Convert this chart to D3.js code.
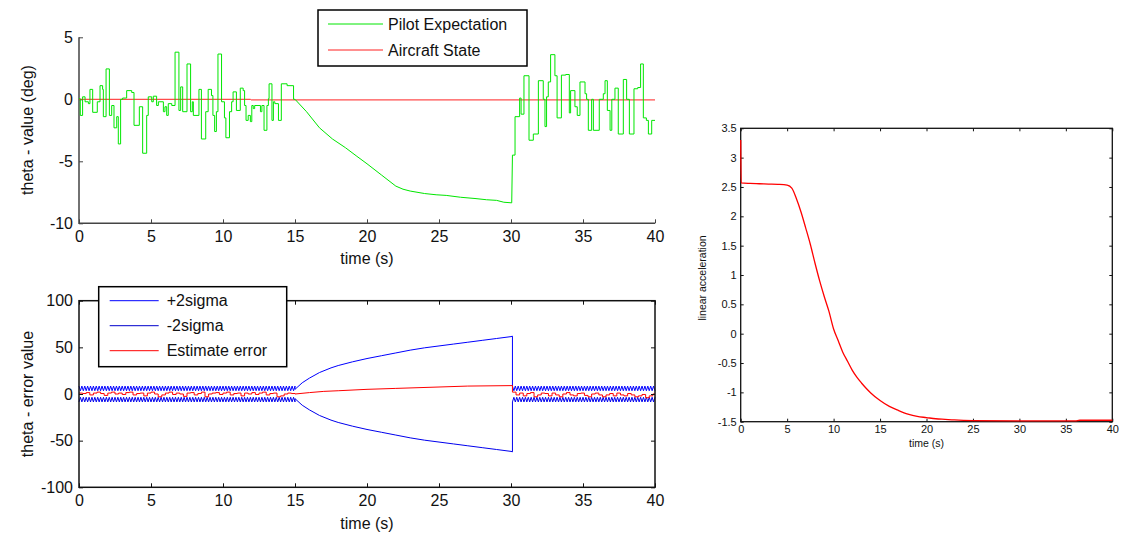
<!DOCTYPE html>
<html><head><meta charset="utf-8">
<script src="https://cdn.jsdelivr.net/npm/d3@7"></script>
<style>
body{margin:0;background:#fff}
svg{display:block}
text{font-family:"Liberation Sans",Arial,Helvetica,sans-serif;fill:#111}
</style>
</head><body>
<script>
// ---------- data ----------
const timeTicks = [0, 5, 10, 15, 20, 25, 30, 35, 40];
const thetaTicks = [-10, -5, 0, 5];
const errorTicks = [-100, -50, 0, 50, 100];
const accelTicks = [-1.5, -1, -0.5, 0, 0.5, 1, 1.5, 2, 2.5, 3, 3.5];

// Pilot expectation: held values (segment start time, value) before 15 s
const pilotHoldA_t = [0.00,0.09,0.25,0.42,0.65,0.76,0.95,1.27,1.46,1.64,1.69,1.88,2.11,2.27,2.43,2.62,2.73,2.89,3.03,3.31,3.66,3.82,4.19,4.42,4.70,4.81,5.05,5.16,5.39,5.51,5.86,5.97,6.09,6.20,6.44,6.67,6.94,7.06,7.20,7.50,7.75,7.87,7.94,8.33,8.50,8.80,8.97,9.20,9.30,9.42,9.54,9.65,9.90,10.10,10.20,10.45,10.60,10.70,10.93,11.20,11.40,11.50,11.60,11.75,11.90,12.00,12.10,12.20,12.60,12.70,12.85,13.05,13.15,13.20,13.40,13.50,13.60,13.85,14.05,14.45,14.90];
const pilotHoldA_v = [0.05,-1.3,0.2,-0.2,-0.35,0.8,-1.05,-0.2,1.1,0.8,-1.4,2.45,-1.3,-0.5,-2.3,-1.4,-3.6,0.0,0.1,0.7,0.55,-2.1,-0.6,-4.35,-1.3,0.2,-0.2,0.25,-0.5,-0.2,-1.0,-0.6,-1.3,-0.35,-0.5,3.8,-0.9,1.0,-1.0,2.85,-1.0,-0.2,-1.3,0.8,-3.2,-1.0,0.8,0.3,-1.3,-2.6,-1.0,3.65,-0.2,-1.5,-3.1,-1.0,-0.2,0.6,-0.9,0.9,0.7,-0.5,-1.7,-1.3,-1.8,-0.5,-0.75,-0.5,-1.0,-0.5,-2.5,-0.5,0.05,1.25,-1.7,-0.2,-0.35,-1.7,1.25,1.1,0.0];
// Pilot expectation: smooth pitch-down 15 s .. 30 s
const pilotRamp_t = [15.0,15.8,16.7,17.6,18.5,19.3,20.0,21.0,22.0,22.5,23.0,24.0,24.8,25.5,26.5,27.5,28.3,29.0,29.5,30.05];
const pilotRamp_v = [0.0,-1.0,-2.3,-3.2,-3.9,-4.6,-5.2,-6.1,-7.0,-7.25,-7.4,-7.6,-7.7,-7.75,-7.9,-8.0,-8.1,-8.15,-8.3,-8.35];
// Pilot expectation: held values after 30 s
const pilotHoldB_t = [30.10,30.28,30.60,30.70,30.90,31.25,31.55,31.90,32.24,32.36,32.47,32.59,32.75,33.05,33.20,33.50,33.80,34.05,34.14,34.44,34.60,34.79,35.14,35.25,35.37,35.60,35.72,36.13,36.41,36.53,36.69,36.88,37.00,37.22,37.45,37.80,38.03,38.22,38.54,38.80,39.00,39.19,39.40,39.54,39.77];
const pilotHoldB_v = [-4.5,-1.4,0.1,-1.2,1.9,-3.3,-2.8,1.5,0.0,-2.2,0.2,1.4,3.6,1.9,-1.5,1.95,2.0,-1.1,0.7,-0.6,-1.3,1.4,0.45,0.0,-2.5,0.0,-2.5,0.0,0.45,1.5,-0.9,-2.5,0.0,0.9,-2.8,1.6,0.0,-2.8,0.85,0.95,2.85,-1.5,-1.7,-2.8,-1.7];

// Aircraft state
const aircraft_t = [0, 11.9, 11.95, 40];
const aircraft_v = [0, 0, -0.05, -0.05];

// 2-sigma envelope: steady alternating levels and the growth 15 s .. 30 s
const sigmaSteadyLevels = [8.5, 3.5];
const sigmaStep = 0.1;
const sigmaGrow_t = [15,15.5,16,16.7,17.5,18,19,20,21,22,23,24,25,26,27,28,29,30,30.1];
const sigmaGrow_v = [5,12,17,23,28,30.5,34.5,38,41,44,47,49.5,51.5,53.5,55.5,57.5,59.5,61.5,62];

// Estimate error
const errA_v = [1,0.5,1.5,-1,1,2,0.5,-1.5,1,2,0,1,-0.5,1.5,2,-1,0.5,1,-2,1,2,0,-3,-1,1,2,-0.5,1,0,-2.5,1,1.5,-1,0.5,2,-3,0,1,1.5,-0.5,1,2,-1,0.5,1,-2,1,0,1.5,-0.5,1,2,-1,0.5,1,-3,-2,0,1,0.5];
const errStep = 0.25;
const errGrow_t = [15,16,17,18,20,22,25,27,30.1];
const errGrow_v = [0,1.5,2.8,3.5,5,6,7.5,8.5,9];
const errB_v = [2,-1,1,-2,0.5,1.5,-3,-1,1,0.5,-2,1,-1,-3,0,1.5,-1,-2,0.5,1,-1.5,-3,0,1,-1,-3,-1,0.5,-2,1,-1,-2,0.5,-1,-3,-2,-0.5,-4,-2,0];

// Linear acceleration
const accel_t = [0,0.05,1,2,3,4,5,5.5,6,6.5,7,7.5,8,8.5,9,9.5,10,10.5,11,11.5,12,12.5,13,13.5,14,15,16,17,18,19,20,21,22,23,25,30,36,36.5,40];
const accel_v = [3.3,2.57,2.56,2.555,2.55,2.545,2.53,2.48,2.3,2.07,1.8,1.52,1.2,0.9,0.63,0.38,0.08,-0.12,-0.32,-0.47,-0.62,-0.74,-0.84,-0.93,-1.01,-1.14,-1.24,-1.31,-1.37,-1.41,-1.43,-1.45,-1.46,-1.47,-1.48,-1.485,-1.485,-1.475,-1.475];

// ---------- helpers ----------
const W = 1123, H = 535;
const svg = d3.select("body").append("svg").attr("width", W).attr("height", H);

function holdPoints(ts, vs, tEnd) {
  const pts = [];
  for (let i = 0; i < ts.length; i++) {
    const tNext = i + 1 < ts.length ? ts[i + 1] : tEnd;
    pts.push([ts[i], vs[i]], [tNext, vs[i]]);
  }
  return pts;
}
function zipPts(ts, vs) { return ts.map((t, i) => [t, vs[i]]); }

function drawAxes(g, x, y, opt) {
  const [x0, x1] = x.range(), [y0, y1] = y.range();
  const fs = opt.fontSize, tk = opt.tick, col = opt.color;
  const ax = g.append("g").attr("transform", `translate(0,${y0})`)
    .call(d3.axisBottom(x).tickValues(opt.xTicks).tickSizeInner(-tk).tickSizeOuter(0).tickPadding(opt.xPad).tickFormat(d3.format("")));
  const ay = g.append("g").attr("transform", `translate(${x0},0)`)
    .call(d3.axisLeft(y).tickValues(opt.yTicks).tickSizeInner(-tk).tickSizeOuter(0).tickPadding(opt.yPad).tickFormat(d => String(d)));
  [ax, ay].forEach(a => {
    a.select(".domain").remove();
    a.selectAll(".tick line").attr("stroke", col).attr("stroke-width", 1);
    a.selectAll(".tick text").style("font-size", fs + "px").attr("fill", "#111");
  });
  if (opt.box) {
    g.append("g").attr("transform", `translate(0,${y1})`)
      .call(d3.axisTop(x).tickValues(opt.xTicks).tickSizeInner(-tk).tickSizeOuter(0).tickFormat(""))
      .call(s => { s.select(".domain").remove(); s.selectAll(".tick line").attr("stroke", col); });
    g.append("g").attr("transform", `translate(${x1},0)`)
      .call(d3.axisRight(y).tickValues(opt.yTicks).tickSizeInner(-tk).tickSizeOuter(0).tickFormat(""))
      .call(s => { s.select(".domain").remove(); s.selectAll(".tick line").attr("stroke", col); });
    g.append("rect").attr("x", x0).attr("y", y1).attr("width", x1 - x0).attr("height", y0 - y1)
      .attr("fill", "none").attr("stroke", col).attr("stroke-width", opt.lw);
  } else {
    g.append("path").attr("d", `M${x0},${y1}V${y0}H${x1}`).attr("fill", "none")
      .attr("stroke", col).attr("stroke-width", opt.lw);
  }
}

function legend(g, x, y, w, h, items, opt) {
  g.append("rect").attr("x", x).attr("y", y).attr("width", w).attr("height", h)
    .attr("fill", "#fff").attr("stroke", "#000").attr("stroke-width", 1.5);
  items.forEach((it, i) => {
    const yy = y + opt.first + i * opt.gap;
    g.append("line").attr("x1", x + opt.l0).attr("x2", x + opt.l1).attr("y1", yy).attr("y2", yy)
      .attr("stroke", it.color).attr("stroke-width", 1);
    g.append("text").attr("x", x + opt.tx).attr("y", yy).attr("dy", "0.35em")
      .style("font-size", opt.fontSize + "px").text(it.label);
  });
}

const lineGen = (x, y) => d3.line().x(d => x(d[0])).y(d => y(d[1]));

// ---------- top-left: pitch ----------
{
  const g = svg.append("g");
  const x = d3.scaleLinear().domain([0, 40]).range([79, 655]);
  const y = d3.scaleLinear().domain([-10, 5]).range([223.3, 37.3]);
  const pilot = holdPoints(pilotHoldA_t, pilotHoldA_v, 15)
    .concat(zipPts(pilotRamp_t, pilotRamp_v))
    .concat(holdPoints(pilotHoldB_t, pilotHoldB_v, 40));
  drawAxes(g, x, y, {xTicks: timeTicks, yTicks: thetaTicks, fontSize: 16, tick: 4, color: "#444", lw: 1.5, xPad: 7, yPad: 6, box: false});
  g.append("path").datum(zipPts(aircraft_t, aircraft_v)).attr("d", lineGen(x, y))
    .attr("fill", "none").attr("stroke", "#ff2020").attr("stroke-width", 1);
  g.append("path").datum(pilot).attr("d", lineGen(x, y))
    .attr("fill", "none").attr("stroke", "#00e600").attr("stroke-width", 1);
  g.append("text").attr("x", 367).attr("y", 264).attr("text-anchor", "middle").style("font-size", "16px").text("time (s)");
  g.append("text").attr("transform", "translate(33,130) rotate(-90)").attr("text-anchor", "middle").style("font-size", "16px").text("theta - value (deg)");
  legend(g, 318, 10, 209, 56, [
    {label: "Pilot Expectation", color: "#00e600"},
    {label: "Aircraft State", color: "#ff2020"}
  ], {first: 14, gap: 26, l0: 10, l1: 65, tx: 70, fontSize: 16});
}

// ---------- bottom-left: estimate error ----------
{
  const g = svg.append("g");
  const x = d3.scaleLinear().domain([0, 40]).range([79, 655]);
  const y = d3.scaleLinear().domain([-100, 100]).range([487.3, 300.7]);

  // envelope samples
  const up = [], lo = [];
  const steady = (t0, t1) => {
    const n = Math.round((t1 - t0) / sigmaStep);
    for (let i = 0; i <= n; i++) {
      const t = t0 + i * sigmaStep, s = sigmaSteadyLevels[i % 2];
      up.push([t, s]); lo.push([t, -s]);
    }
  };
  steady(0, 15);
  sigmaGrow_t.forEach((t, i) => { up.push([t, sigmaGrow_v[i]]); lo.push([t, -sigmaGrow_v[i]]); });
  steady(30.1, 40);

  const err = [];
  errA_v.forEach((v, i) => err.push([i * errStep, v], [(i + 1) * errStep, v]));
  errGrow_t.forEach((t, i) => err.push([t, errGrow_v[i]]));
  errB_v.forEach((v, i) => err.push([30.1 + i * errStep, v], [Math.min(40, 30.1 + (i + 1) * errStep), v]));

  g.append("path").datum(up).attr("d", lineGen(x, y)).attr("fill", "none").attr("stroke", "#0000ff").attr("stroke-width", 1);
  g.append("path").datum(lo).attr("d", lineGen(x, y)).attr("fill", "none").attr("stroke", "#0000ee").attr("stroke-width", 1);
  g.append("path").datum(err).attr("d", lineGen(x, y)).attr("fill", "none").attr("stroke", "#ff0000").attr("stroke-width", 1);
  drawAxes(g, x, y, {xTicks: timeTicks, yTicks: errorTicks, fontSize: 16, tick: 4, color: "#111", lw: 1.5, xPad: 7, yPad: 6, box: true});
  g.append("text").attr("x", 367).attr("y", 529).attr("text-anchor", "middle").style("font-size", "16px").text("time (s)");
  g.append("text").attr("transform", "translate(33,394) rotate(-90)").attr("text-anchor", "middle").style("font-size", "16px").text("theta - error value");
  legend(g, 98.7, 286.7, 188, 80, [
    {label: "+2sigma", color: "#0000ff"},
    {label: "-2sigma", color: "#0000cc"},
    {label: "Estimate error", color: "#ff0000"}
  ], {first: 14, gap: 25, l0: 11, l1: 60, tx: 68, fontSize: 16});
}

// ---------- right: linear acceleration ----------
{
  const g = svg.append("g");
  const x = d3.scaleLinear().domain([0, 40]).range([740.7, 1112.3]);
  const y = d3.scaleLinear().domain([-1.5, 3.5]).range([421.7, 128.3]);
  drawAxes(g, x, y, {xTicks: timeTicks, yTicks: accelTicks, fontSize: 11, tick: 3, color: "#111", lw: 1.3, xPad: 4, yPad: 4, box: true});
  g.append("path").datum(zipPts(accel_t, accel_v)).attr("d", lineGen(x, y).curve(d3.curveMonotoneX))
    .attr("fill", "none").attr("stroke", "#ff0000").attr("stroke-width", 1.3);
  g.append("text").attr("x", 926.5).attr("y", 447).attr("text-anchor", "middle").style("font-size", "10.5px").text("time (s)");
  g.append("text").attr("transform", "translate(706,278) rotate(-90)").attr("text-anchor", "middle").style("font-size", "10.5px").text("linear acceleration");
}
</script>
</body></html>
